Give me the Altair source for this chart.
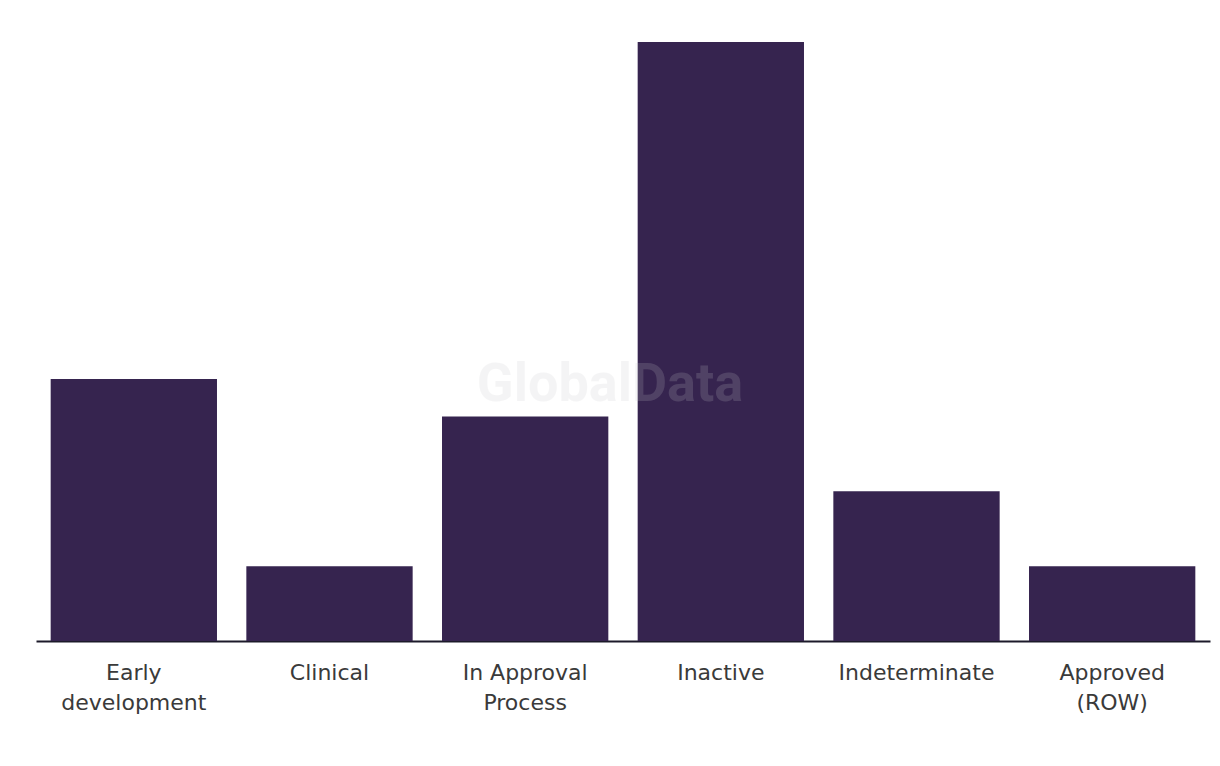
import altair as alt
import pandas as pd

categories = ["Early development", "Clinical", "In Approval Process", "Inactive", "Indeterminate", "Approved (ROW)"]
label_lines = [["Early", "development"], ["Clinical"], ["In Approval", "Process"], ["Inactive"], ["Indeterminate"], ["Approved", "(ROW)"]]
values = [7, 2, 6, 16, 4, 2]

df = pd.DataFrame({"category": categories, "value": values})

label_expr = "{" + ", ".join(
    f"'{c}': {label_lines[i]!r}" for i, c in enumerate(categories)
) + "}[datum.value]"

bars = alt.Chart(df).mark_bar(color="#36244f").encode(
    x=alt.X("category:N", sort=categories,
            scale=alt.Scale(paddingInner=0.15, paddingOuter=0.075),
            axis=alt.Axis(title=None, labelExpr=label_expr, labelAngle=0,
                          labelFont="DejaVu Sans", labelFontSize=22, labelColor="#3a3a3a",
                          labelLineHeight=30, labelPadding=21, ticks=False,
                          domainColor="#1c1a2a", domainWidth=2, labelBaseline="top")),
    y=alt.Y("value:Q", scale=alt.Scale(domain=[0, 16], nice=False),
            axis=None),
)

watermark = alt.Chart(pd.DataFrame({"t": ["GlobalData"]})).mark_text(
    font="Roboto", fontSize=54, fontWeight="bold", color="#c8c8cc", opacity=0.18,
    align="center", baseline="middle"
).encode(text="t:N", x=alt.value(574), y=alt.value(343))

chart = alt.layer(bars, watermark).properties(
    width=1174, height=599,
    padding={"left": 28, "top": 34, "right": 2, "bottom": 10},
).configure_view(stroke=None).configure_axis(grid=False)

chart.save("out.html", embed_options={"renderer": "svg", "actions": False})
